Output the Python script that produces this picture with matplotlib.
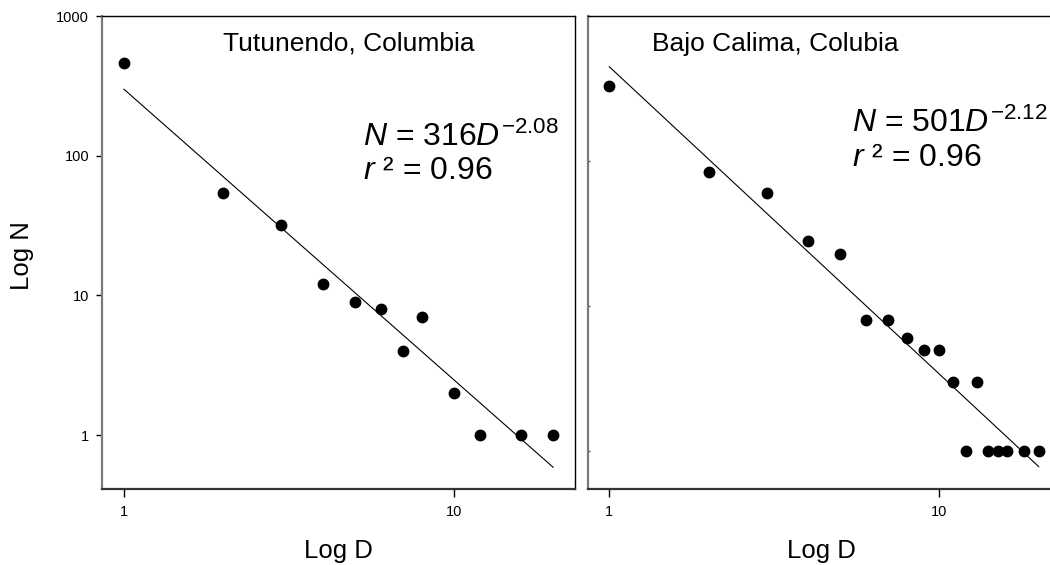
import numpy as np
import matplotlib
matplotlib.use("Agg")
import matplotlib.pyplot as plt
from matplotlib.ticker import NullLocator

plt.rcParams['font.family'] = ['Liberation Sans', 'DejaVu Sans']
plt.rcParams['mathtext.fontset'] = 'custom'
plt.rcParams['mathtext.rm'] = 'Liberation Sans'
plt.rcParams['mathtext.it'] = 'Liberation Sans:italic'

# Tutunendo, Columbia
tut_d = [1, 2, 3, 4, 5, 6, 7, 8, 10, 12, 16, 20]
tut_n = [461, 54, 32, 12, 9, 8, 4, 7, 2, 1, 1, 1]

# Bajo Calima, Colubia
baj_d = [1, 2, 3, 4, 5, 6, 7, 8, 9, 10, 11, 12, 13, 14, 15, 16, 18, 20]
baj_n = [329, 84, 60, 28, 23, 8, 8, 6, 5, 5, 3, 1, 3, 1, 1, 1, 1, 1]

# fitted power laws N = a * D^b (as drawn)
fit_a = [299, 447]
fit_b = [-2.08, -2.12]
fit_range = [1, 20]

titles = ["Tutunendo, Columbia", "Bajo Calima, Colubia"]
equations = ["$\\it{N}$ = 316$\\it{D}^{-2.08}$", "$\\it{N}$ = 501$\\it{D}^{-2.12}$"]
r2_text = "$\\it{r}$ ² = 0.96"

W, H = 1050, 565
fig = plt.figure(figsize=(W / 100, H / 100), dpi=100)

def px(x, y):
    return x / W, 1 - y / H

ax1 = fig.add_axes([102 / W, 1 - 489 / H, 473 / W, 473 / H])
ax2 = fig.add_axes([588 / W, 1 - 489 / H, 467 / W, 473 / H])

panels = [
    (ax1, tut_d, tut_n, (0.858, 23.3), (0.411, 1000)),
    (ax2, baj_d, baj_n, (0.862, 22.4), (0.547, 1000)),
]

for i, (ax, d, n, xl, yl) in enumerate(panels):
    ax.set_xscale('log')
    ax.set_yscale('log')
    ax.plot(d, n, 'o', color='black', ms=7.5, zorder=3)
    xs = np.array(fit_range, dtype=float)
    ax.plot(xs, fit_a[i] * xs ** fit_b[i], color='black', lw=0.8)
    ax.set_xlim(*xl)
    ax.set_ylim(*yl)

    ax.set_xticks([1, 10])
    ax.set_xticklabels(['1', '10'])
    ax.set_yticks([1, 10, 100, 1000])
    ax.xaxis.set_minor_locator(NullLocator())
    ax.yaxis.set_minor_locator(NullLocator())
    ax.tick_params(axis='x', direction='out', length=5.8, width=1, pad=6, labelsize=10.5)

    ax.spines['left'].set_color('#7a7a7a')
    ax.spines['left'].set_linewidth(1.6)
    ax.spines['bottom'].set_color('#333333')
    ax.spines['bottom'].set_linewidth(1.6)
    ax.spines['top'].set_linewidth(1.0)
    ax.spines['right'].set_linewidth(1.0)

ax1.set_yticklabels(['1', '10', '100', '1000'])
ax1.tick_params(axis='y', direction='out', length=4.3, width=1, pad=5, labelsize=10.5)
ax2.set_yticklabels([])
ax2.tick_params(axis='y', direction='in', length=1.5, width=1, color='#555555')

# panel titles
fig.text(*px(223, 51), titles[0], fontsize=19, ha='left', va='baseline')
fig.text(*px(652, 51), titles[1], fontsize=19, ha='left', va='baseline')

# equations
fig.text(*px(363, 146), equations[0], fontsize=23, ha='left', va='baseline')
fig.text(*px(363, 179), r2_text, fontsize=23, ha='left', va='baseline')
fig.text(*px(852, 132), equations[1], fontsize=23, ha='left', va='baseline')
fig.text(*px(852, 166), r2_text, fontsize=23, ha='left', va='baseline')

# axis labels
fig.text(*px(338, 558), "Log D", fontsize=18.5, ha='center', va='baseline')
fig.text(*px(821, 558), "Log D", fontsize=18.5, ha='center', va='baseline')
fig.text(*px(22, 256), "Log N", fontsize=18.5, ha='center', va='center', rotation=90)

fig.savefig("out.png", dpi=100)
